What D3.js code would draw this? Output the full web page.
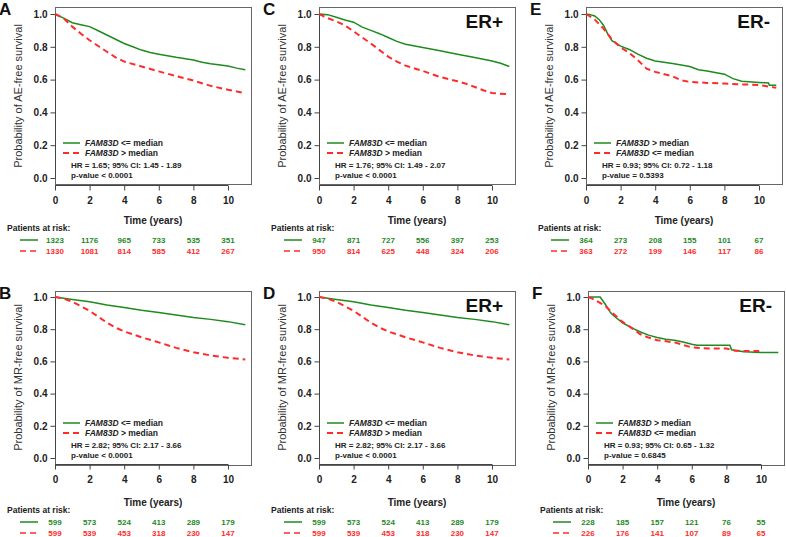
<!DOCTYPE html>
<html><head><meta charset="utf-8">
<script src="https://cdn.jsdelivr.net/npm/d3@7"></script>
<style>body{margin:0;background:#fff;} text{font-family:"Liberation Sans",Arial,sans-serif;}</style>
</head><body><svg id="c" width="786" height="537"></svg>
<script>
// ---- data ----
const xTicks = [0, 2, 4, 6, 8, 10];
const yTicks = [0.0, 0.2, 0.4, 0.6, 0.8, 1.0];

const A_green = [[0,1],[0.5,0.975],[1,0.947],[1.5,0.935],[2,0.923],[2.5,0.898],[3,0.872],[3.5,0.846],[4,0.82],[4.5,0.8],[5,0.78],[5.5,0.765],[6,0.755],[7,0.736],[8,0.72],[8.5,0.706],[9,0.696],[10,0.683],[10.5,0.67],[11,0.66]];
const A_red = [[0,1],[0.5,0.974],[1,0.923],[1.5,0.88],[2,0.84],[2.5,0.805],[3,0.77],[3.5,0.736],[4,0.71],[5,0.68],[6,0.65],[7,0.622],[8,0.594],[9,0.562],[10,0.538],[10.5,0.528],[11,0.517]];
const C_green = [[0,1],[0.5,0.996],[1,0.98],[1.5,0.963],[2,0.95],[2.5,0.92],[3,0.9],[3.5,0.88],[4,0.857],[4.5,0.833],[5,0.816],[6,0.796],[7,0.776],[8,0.755],[9,0.735],[10,0.714],[10.5,0.7],[11,0.68]];
const C_red = [[0,1],[0.5,0.975],[1,0.955],[1.5,0.93],[2,0.894],[2.5,0.857],[3,0.82],[3.5,0.78],[4,0.74],[4.5,0.71],[5,0.685],[6,0.653],[7,0.616],[8,0.59],[8.5,0.575],[9,0.555],[9.5,0.535],[10,0.518],[11,0.51]];
const E_green = [[0,1],[0.25,0.996],[0.5,0.988],[0.75,0.967],[1,0.933],[1.25,0.88],[1.5,0.837],[2,0.804],[2.5,0.784],[3,0.755],[3.5,0.73],[4,0.714],[5,0.698],[6,0.68],[6.5,0.66],[7,0.653],[8,0.633],[8.5,0.606],[9,0.59],[10,0.583],[10.55,0.58],[10.6,0.565],[11,0.565]];
const E_red = [[0,1],[0.25,0.984],[0.5,0.967],[1,0.912],[1.5,0.845],[2,0.796],[2.5,0.763],[3,0.718],[3.5,0.667],[4,0.647],[5,0.62],[5.5,0.596],[6,0.586],[7,0.58],[8,0.576],[9,0.571],[10,0.567],[11,0.55]];
const B_green = [[0,1],[1,0.984],[2,0.97],[3,0.95],[4,0.935],[5,0.918],[6,0.904],[7,0.888],[8,0.873],[9,0.861],[10,0.847],[11,0.827]];
const B_red = [[0,1],[0.5,0.99],[1,0.97],[1.5,0.943],[2,0.914],[2.5,0.878],[3,0.84],[3.5,0.81],[4,0.786],[5,0.75],[6,0.718],[7,0.684],[8,0.657],[9,0.637],[10,0.622],[11,0.612]];
const D_green = B_green;
const D_red = B_red;
const F_green = [[0,1],[0.7,1],[1,0.955],[1.3,0.903],[1.5,0.882],[2,0.84],[2.5,0.81],[3,0.784],[3.5,0.763],[4,0.748],[4.5,0.738],[5,0.732],[5.5,0.72],[6,0.707],[6.3,0.7],[8.2,0.7],[8.3,0.672],[9,0.66],[10,0.656],[11,0.656]];
const F_red = [[0,1],[0.25,0.99],[0.5,0.975],[1,0.944],[1.5,0.893],[2,0.845],[2.5,0.81],[3,0.77],[3.5,0.748],[4,0.732],[5,0.718],[6,0.687],[7,0.68],[8,0.68],[8.5,0.666],[9.9,0.664]];

const A_risk_green = [1323,1176,965,733,535,351], A_risk_red = [1330,1081,814,585,412,267];
const C_risk_green = [947,871,727,556,397,253],   C_risk_red = [950,814,625,448,324,206];
const E_risk_green = [364,273,208,155,101,67],    E_risk_red = [363,272,199,146,117,86];
const B_risk_green = [599,573,524,413,289,179],   B_risk_red = [599,539,453,318,230,147];
const D_risk_green = [599,573,524,413,289,179],   D_risk_red = [599,539,453,318,230,147];
const F_risk_green = [228,185,157,121,76,55],     F_risk_red = [226,176,141,107,89,65];

const labelsPos = ["<= median", "> median"]; // A-D: green, red
const labelsNeg = ["> median", "<= median"]; // E-F: green, red
const hrTexts = {
  A: ["HR = 1.65; 95% CI: 1.45 - 1.89", "p-value < 0.0001"],
  C: ["HR = 1.76; 95% CI: 1.49 - 2.07", "p-value < 0.0001"],
  E: ["HR = 0.93; 95% CI: 0.72 - 1.18", "p-value = 0.5393"],
  B: ["HR = 2.82; 95% CI: 2.17 - 3.66", "p-value < 0.0001"],
  D: ["HR = 2.82; 95% CI: 2.17 - 3.66", "p-value < 0.0001"],
  F: ["HR = 0.93; 95% CI: 0.65 - 1.32", "p-value = 0.6845"]
};

// ---- drawing ----
const GREEN = "#1f8a1f", RED = "#ff2b2b";
const svg = d3.select("#c");

const panels = [
  {id:"A", left:55,  y1:14,  y0:178, risk:231, g:A_green, r:A_red, rg:A_risk_green, rr:A_risk_red, lab:labelsPos, ytitle:"Probability of AE-free survival", er:null},
  {id:"C", left:319, y1:14,  y0:178, risk:231, g:C_green, r:C_red, rg:C_risk_green, rr:C_risk_red, lab:labelsPos, ytitle:"Probability of AE-free survival", er:"ER+"},
  {id:"E", left:586, y1:14,  y0:178, risk:231, g:E_green, r:E_red, rg:E_risk_green, rr:E_risk_red, lab:labelsNeg, ytitle:"Probability of AE-free survival", er:"ER-"},
  {id:"B", left:55,  y1:297, y0:458, risk:513, g:B_green, r:B_red, rg:B_risk_green, rr:B_risk_red, lab:labelsPos, ytitle:"Probability of MR-free survival", er:null},
  {id:"D", left:319, y1:297, y0:458, risk:513, g:D_green, r:D_red, rg:D_risk_green, rr:D_risk_red, lab:labelsPos, ytitle:"Probability of MR-free survival", er:"ER+"},
  {id:"F", left:588, y1:297, y0:458, risk:513, g:F_green, r:F_red, rg:F_risk_green, rr:F_risk_red, lab:labelsNeg, ytitle:"Probability of MR-free survival", er:"ER-"}
];

panels.forEach(p => {
  const x = d3.scaleLinear().domain([0, 11.33]).range([p.left, p.left + 196]);
  const y = d3.scaleLinear().domain([0, 1]).range([p.y0, p.y1]);
  const pad = (p.y0 - p.y1) * 0.04;
  const top = p.y1 - pad, bottom = p.y0 + pad;
  const right = x(11.33);
  const g = svg.append("g");

  // box
  g.append("rect").attr("x", p.left + 0.5).attr("y", Math.round(top) + 0.5)
    .attr("width", right - p.left).attr("height", Math.round(bottom - top))
    .attr("fill", "none").attr("stroke", "#666").attr("stroke-width", 1);

  // y axis
  const yAx = g.append("g").attr("transform", `translate(${p.left + 0.5},0)`)
    .call(d3.axisLeft(y).tickValues(yTicks).tickFormat(d3.format(".1f")).tickSize(5).tickPadding(3));
  yAx.select(".domain").attr("stroke", "#444").attr("d", `M-0,${y(0)}V${y(1)}`);
  yAx.selectAll("line").attr("stroke", "#444");
  yAx.selectAll("text").attr("font-size", 10).attr("font-weight", "bold").attr("fill", "#222")
    .attr("font-family", "Liberation Sans, Arial, sans-serif");

  // x axis
  const xAx = g.append("g").attr("transform", `translate(0,${Math.round(bottom) + 0.5})`)
    .call(d3.axisBottom(x).tickValues(xTicks).tickSize(5).tickPadding(6));
  xAx.select(".domain").attr("stroke", "#444").attr("d", `M${x(0)},0H${x(10)}`);
  xAx.selectAll("line").attr("stroke", "#444");
  xAx.selectAll("text").attr("font-size", 10).attr("font-weight", "bold").attr("fill", "#222")
    .attr("font-family", "Liberation Sans, Arial, sans-serif");

  // y title
  g.append("text").attr("transform", `translate(${p.left - 33},${(p.y0 + p.y1) / 2}) rotate(-90)`)
    .attr("text-anchor", "middle").attr("font-size", 11).attr("fill", "#333").text(p.ytitle);

  // x title
  g.append("text").attr("x", (p.left + right) / 2).attr("y", p.risk - 7)
    .attr("text-anchor", "middle").attr("font-size", 10).attr("font-weight", "bold").attr("fill", "#222")
    .text("Time (years)");

  // curves
  const line = d3.line().x(d => x(d[0])).y(d => y(d[1])).curve(d3.curveLinear);
  g.append("path").datum(p.g).attr("d", line).attr("fill", "none").attr("stroke", GREEN).attr("stroke-width", 1.5);
  g.append("path").datum(p.r).attr("d", line).attr("fill", "none").attr("stroke", RED)
    .attr("stroke-width", 2).attr("stroke-dasharray", "6,4");

  // legend
  const lx = p.left + 8;
  g.append("line").attr("x1", lx).attr("x2", lx + 17).attr("y1", p.y0 - 35).attr("y2", p.y0 - 35)
    .attr("stroke", GREEN).attr("stroke-width", 1.5);
  g.append("line").attr("x1", lx).attr("x2", lx + 17).attr("y1", p.y0 - 25).attr("y2", p.y0 - 25)
    .attr("stroke", RED).attr("stroke-width", 2).attr("stroke-dasharray", "6,4");
  [[p.lab[0], p.y0 - 32], [p.lab[1], p.y0 - 22]].forEach(([lab, yy]) => {
    const t = g.append("text").attr("x", lx + 22).attr("y", yy).attr("font-size", 8.5).attr("fill", "#222");
    t.append("tspan").attr("font-style", "italic").attr("font-weight", "bold").text("FAM83D");
    t.append("tspan").attr("font-weight", "bold").text(" " + lab);
  });
  g.append("text").attr("x", p.left + 16).attr("y", p.y0 - 10).attr("font-size", 8).attr("font-weight", "bold")
    .attr("fill", "#222").text(hrTexts[p.id][0]);
  g.append("text").attr("x", p.left + 16).attr("y", p.y0).attr("font-size", 8).attr("font-weight", "bold")
    .attr("fill", "#222").text(hrTexts[p.id][1]);

  // ER label
  if (p.er) {
    g.append("text").attr("x", right - 12).attr("y", top + 21).attr("text-anchor", "end")
      .attr("font-size", 19).attr("font-weight", "bold").attr("fill", "#111").text(p.er);
  }

  // panel letter
  g.append("text").attr("x", p.left - 56).attr("y", top + 8).attr("font-size", 17).attr("font-weight", "bold")
    .attr("fill", "#111").text(p.id);

  // patients at risk
  const ry = p.risk;
  g.append("text").attr("x", p.left - 48).attr("y", ry).attr("font-size", 8.5).attr("font-weight", "bold")
    .attr("fill", "#222").text("Patients at risk:");
  g.append("line").attr("x1", p.left - 35).attr("x2", p.left - 17).attr("y1", ry + 9).attr("y2", ry + 9)
    .attr("stroke", GREEN).attr("stroke-width", 1.5);
  g.append("line").attr("x1", p.left - 35).attr("x2", p.left - 17).attr("y1", ry + 20).attr("y2", ry + 20)
    .attr("stroke", RED).attr("stroke-width", 1.5).attr("stroke-dasharray", "6,4");
  g.selectAll(".rg").data(p.rg).enter().append("text")
    .attr("x", (d, i) => x(xTicks[i])).attr("y", ry + 12).attr("text-anchor", "middle")
    .attr("font-size", 8).attr("font-weight", "bold").attr("fill", GREEN).text(d => d);
  g.selectAll(".rr").data(p.rr).enter().append("text")
    .attr("x", (d, i) => x(xTicks[i])).attr("y", ry + 23).attr("text-anchor", "middle")
    .attr("font-size", 8).attr("font-weight", "bold").attr("fill", RED).text(d => d);
});
</script></body></html>
